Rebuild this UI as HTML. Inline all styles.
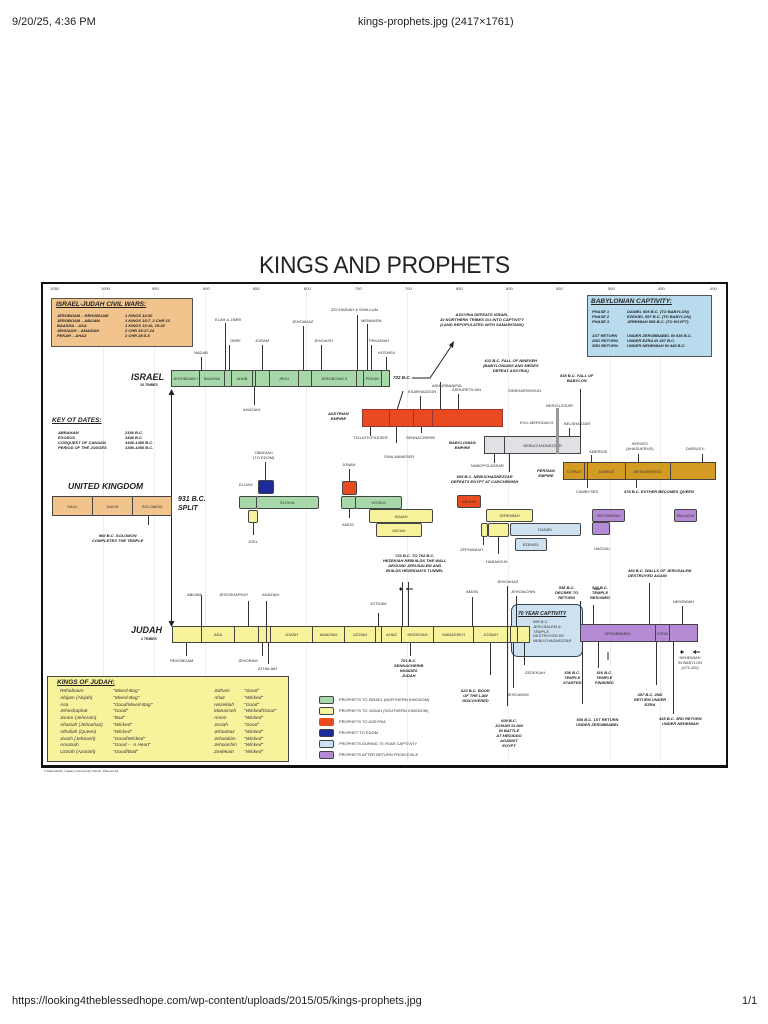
<!DOCTYPE html>
<html><head><meta charset="utf-8"><style>
body{margin:0;background:#fff;width:768px;height:1024px;position:relative;overflow:hidden;font-family:"Liberation Sans",sans-serif}
.a{position:absolute}
.t{position:absolute;font-size:4px;white-space:nowrap;color:#333;line-height:1.2}
.n{position:absolute;font-size:4.5px;font-weight:bold;font-style:italic;color:#222;text-align:center;line-height:1.25;white-space:nowrap}
.b{position:absolute;border:1px solid #444;box-sizing:border-box;font-size:4px;color:#333;display:flex;align-items:center;justify-content:center;white-space:nowrap}
.r{border-radius:2px}
.v{position:absolute;width:1px;background:#333}
.h{position:absolute;height:1px;background:#333}
.G{background:#a7d8a9}.Y{background:#f7f29c}.R{background:#ea4a1f}.B{background:#1d2a9a}.L{background:#cde1f0}.P{background:#b48ad4}
.g{position:absolute;width:1px;background:#eceef2;top:292px;height:470px}
</style></head><body>
<div class="a" style="left:12px;top:16px;font-size:11px;color:#222">9/20/25, 4:36 PM</div>
<div class="a" style="left:358px;top:16px;font-size:11px;color:#222">kings-prophets.jpg (2417×1761)</div>
<div class="a" style="left:12px;top:995px;font-size:11px;color:#222">https://looking4theblessedhope.com/wp-content/uploads/2015/05/kings-prophets.jpg</div>
<div class="a" style="left:742px;top:995px;font-size:11px;color:#222">1/1</div>

<div class="a" style="left:259px;top:252px;font-size:24px;color:#222;letter-spacing:-0.3px;transform:scaleX(0.95);transform-origin:left top">KINGS AND PROPHETS</div>
<div class="g" style="left:103px"></div><div class="g" style="left:154px"></div><div class="g" style="left:205px"></div><div class="g" style="left:306px"></div><div class="g" style="left:407px"></div><div class="g" style="left:508px"></div><div class="g" style="left:610px"></div><div class="g" style="left:660px"></div>
<div class="a" style="left:41px;top:282px;width:687px;height:486px;border:2px solid #111;border-width:2px 2px 3px 2px;box-sizing:border-box"></div>

<!-- years -->
<div class="t" style="left:50px;top:287px">1050</div><div class="t" style="left:101px;top:287px">1000</div><div class="t" style="left:152px;top:287px">950</div><div class="t" style="left:203px;top:287px">900</div><div class="t" style="left:253px;top:287px">850</div><div class="t" style="left:304px;top:287px">800</div><div class="t" style="left:355px;top:287px">750</div><div class="t" style="left:405px;top:287px">700</div><div class="t" style="left:456px;top:287px">650</div><div class="t" style="left:506px;top:287px">600</div><div class="t" style="left:556px;top:287px">550</div><div class="t" style="left:608px;top:287px">500</div><div class="t" style="left:658px;top:287px">450</div><div class="t" style="left:710px;top:287px">400</div>

<!-- civil wars -->
<div class="a" style="left:51px;top:298px;width:142px;height:49px;background:#f1c48d;border:1px solid #555;box-sizing:border-box"></div>
<div class="n" style="left:56px;top:301px;font-size:6.5px;text-decoration:underline;text-align:left">ISRAEL-JUDAH CIVIL WARS:</div>
<div class="n" style="left:57px;top:313px;text-align:left;font-size:4px">JEROBOAM – REHOBOAM<br>JEROBOAM – ABIJAM<br>BAASHA – ASA<br>JEHOASH – AMAZIAH<br>PEKAH – AHAZ</div>
<div class="n" style="left:125px;top:313px;text-align:left;font-size:4px">1 KINGS 14:30<br>1 KINGS 15:7, 2 CHR 13<br>1 KINGS 15:16, 15:32<br>2 CHR 25:17-24<br>2 CHR 28:5-8</div>

<!-- Babylonian captivity -->
<div class="a" style="left:587px;top:295px;width:125px;height:62px;background:#b9dbee;border:1px solid #555;box-sizing:border-box"></div>
<div class="n" style="left:591px;top:298px;font-size:6.5px;text-decoration:underline;text-align:left">BABYLONIAN CAPTIVITY:</div>
<div class="n" style="left:592px;top:309px;text-align:left;font-size:4px">PHASE 1<br>PHASE 2<br>PHASE 3</div>
<div class="n" style="left:627px;top:309px;text-align:left;font-size:4px">DANIEL 605 B.C. (TO BABYLON)<br>EZEKIEL 597 B.C. (TO BABYLON)<br>JEREMIAH 586 B.C. (TO EGYPT)</div>
<div class="n" style="left:592px;top:333px;text-align:left;font-size:4px">1ST RETURN<br>2ND RETURN<br>3RD RETURN</div>
<div class="n" style="left:627px;top:333px;text-align:left;font-size:4px">UNDER ZERUBBABEL IN 536 B.C.<br>UNDER EZRA IN 457 B.C.<br>UNDER NEHEMIAH IN 445 B.C.</div>

<!-- Israel -->
<div class="n" style="left:131px;top:372px;font-size:9px">ISRAEL</div>
<div class="n" style="left:140px;top:383px;font-size:3.5px">10 TRIBES</div>
<div class="b G" style="left:171px;top:370px;width:29px;height:17px">JEROBOAM I</div>
<div class="b G" style="left:199px;top:370px;width:26px;height:17px">BAASHA</div>
<div class="b G" style="left:224px;top:370px;width:8px;height:17px"></div>
<div class="b G" style="left:231px;top:370px;width:22px;height:17px">AHAB</div>
<div class="b G" style="left:252px;top:370px;width:4px;height:17px"></div>
<div class="b G" style="left:255px;top:370px;width:15px;height:17px"></div>
<div class="b G" style="left:269px;top:370px;width:30px;height:17px">JEHU</div>
<div class="b G" style="left:298px;top:370px;width:14px;height:17px"></div>
<div class="b G" style="left:311px;top:370px;width:46px;height:17px">JEROBOAM II</div>
<div class="b G" style="left:356px;top:370px;width:8px;height:17px"></div>
<div class="b G" style="left:363px;top:370px;width:19px;height:17px">PEKAH</div>
<div class="b G" style="left:381px;top:370px;width:9px;height:17px"></div>
<div class="v" style="left:201px;top:357px;height:13px"></div><div class="t" style="left:194px;top:351px">NADAB</div>
<div class="v" style="left:225px;top:323px;height:47px"></div><div class="t" style="left:215px;top:318px">ELAH &amp; ZIMRI</div>
<div class="v" style="left:229px;top:345px;height:25px"></div><div class="t" style="left:230px;top:339px">OMRI</div>
<div class="v" style="left:262px;top:345px;height:25px"></div><div class="t" style="left:255px;top:339px">JORAM</div>
<div class="v" style="left:303px;top:326px;height:44px"></div><div class="t" style="left:292px;top:320px">JEHOAHAZ</div>
<div class="v" style="left:321px;top:345px;height:25px"></div><div class="t" style="left:314px;top:339px">JEHOASH</div>
<div class="v" style="left:357px;top:315px;height:55px"></div><div class="t" style="left:331px;top:308px">ZECHARIAH &amp; SHALLUM</div>
<div class="v" style="left:367px;top:324px;height:46px"></div><div class="t" style="left:361px;top:319px">MENAHEM</div>
<div class="v" style="left:371px;top:345px;height:25px"></div><div class="t" style="left:369px;top:339px">PEKAHIAH</div>
<div class="v" style="left:386px;top:357px;height:13px"></div><div class="t" style="left:378px;top:351px">HOSHEA</div>
<div class="v" style="left:254px;top:387px;height:18px"></div><div class="t" style="left:243px;top:408px">AHAZIAH</div>
<div class="n" style="left:393px;top:375px">722 B.C.</div>
<svg class="a" style="left:0;top:0" width="768" height="1024">
<polyline points="412,378 430,378 452,345" fill="none" stroke="#222" stroke-width="1"/>
<polygon points="454,341 449,345 453,348" fill="#222"/>
<line x1="171.5" y1="394" x2="171.5" y2="621" stroke="#222" stroke-width="1"/>
<polygon points="171.5,389 168.5,395 174.5,395" fill="#222"/>
<polygon points="171.5,627 168.5,621 174.5,621" fill="#222"/>
<line x1="397" y1="410" x2="403" y2="391" stroke="#222"/>
<line x1="608" y1="652" x2="608" y2="660" stroke="#222"/>
<line x1="594" y1="589" x2="600" y2="589" stroke="#222"/>
<line x1="399" y1="589" x2="403" y2="589" stroke="#222"/>
<polygon points="403,589 400,587 400,591" fill="#222"/>
<line x1="406" y1="589" x2="413" y2="589" stroke="#222"/>
<polygon points="406,589 409,587 409,591" fill="#222"/>
<line x1="680" y1="652" x2="684" y2="652" stroke="#222"/>
<polygon points="684,652 681,650 681,654" fill="#222"/>
<line x1="693" y1="652" x2="700" y2="652" stroke="#222"/>
<polygon points="693,652 696,650 696,654" fill="#222"/>
</svg>
<div class="n" style="left:440px;top:312px;font-size:4px">ASSYRIA DEFEATS ISRAEL<br>10 NORTHERN TRIBES GO INTO CAPTIVITY<br>(LAND REPOPULATED WITH SAMARITANS)</div>
<div class="n" style="left:483px;top:358px;font-size:4px">612 B.C. FALL OF NINEVEH<br>(BABYLONIANS AND MEDES<br>DEFEAT ASSYRIA)</div>
<div class="n" style="left:560px;top:373px;font-size:4px">538 B.C. FALL OF<br>BABYLON</div>

<!-- Key OT dates -->
<div class="n" style="left:52px;top:417px;font-size:6.5px;text-decoration:underline;text-align:left">KEY OT DATES:</div>
<div class="n" style="left:58px;top:430px;font-size:4px;text-align:left">ABRAHAM<br>EXODUS<br>CONQUEST OF CANAAN<br>PERIOD OF THE JUDGES</div>
<div class="n" style="left:125px;top:430px;font-size:4px;text-align:left">2166 B.C.<br>1446 B.C.<br>1406-1390 B.C.<br>1390-1050 B.C.</div>

<!-- Assyria -->
<div class="n" style="left:328px;top:411px;font-size:4px">ASSYRIAN<br>EMPIRE</div>
<div class="b R" style="left:362px;top:409px;width:28px;height:18px;border-color:#933"></div>
<div class="b R" style="left:389px;top:409px;width:25px;height:18px;border-color:#933"></div>
<div class="b R" style="left:413px;top:409px;width:20px;height:18px;border-color:#933"></div>
<div class="b R" style="left:432px;top:409px;width:71px;height:18px;border-color:#933"></div>
<div class="v" style="left:420px;top:396px;height:13px"></div><div class="t" style="left:408px;top:390px">ESARHADDON</div>
<div class="v" style="left:458px;top:394px;height:15px"></div><div class="t" style="left:452px;top:388px">ASHURETILIAN</div>
<div class="v" style="left:440px;top:382px;height:27px"></div><div class="t" style="left:432px;top:384px">ASHURBANIPAL</div>
<div class="t" style="left:508px;top:389px">SINSHARISHKUN</div>
<div class="v" style="left:370px;top:427px;height:9px"></div><div class="t" style="left:353px;top:436px">TIGLATH-PILESER</div>
<div class="v" style="left:396px;top:427px;height:16px"></div><div class="t" style="left:384px;top:455px">SHALMANESER</div>
<div class="v" style="left:421px;top:427px;height:6px"></div><div class="t" style="left:406px;top:436px">SENNACHERIB</div>

<!-- Babylon -->
<div class="n" style="left:449px;top:440px;font-size:4px">BABYLONIAN<br>EMPIRE</div>
<div class="b" style="left:484px;top:436px;width:21px;height:18px;background:#e2e0e4"></div>
<div class="b" style="left:504px;top:436px;width:77px;height:18px;background:#e2e0e4">NEBUCHADNEZZAR</div>
<div class="a" style="left:556px;top:408px;width:3px;height:46px;background:#999"></div>
<div class="t" style="left:546px;top:404px">NERIGLISSAR</div>
<div class="t" style="left:520px;top:421px">EVIL-MERODACH</div>
<div class="v" style="left:569px;top:428px;height:8px"></div><div class="t" style="left:564px;top:422px">BELSHAZZAR</div>
<div class="v" style="left:580px;top:389px;height:47px"></div>
<div class="v" style="left:494px;top:454px;height:9px"></div><div class="t" style="left:471px;top:464px">NABOPOLASSAR</div>
<div class="v" style="left:509px;top:454px;height:18px"></div>
<div class="n" style="left:451px;top:474px;font-size:4px">605 B.C. NEBUCHADNEZZAR<br>DEFEATS EGYPT AT CARCHEMISH</div>

<!-- Persia -->
<div class="n" style="left:537px;top:468px;font-size:4px">PERSIAN<br>EMPIRE</div>
<div class="b" style="left:563px;top:462px;width:22px;height:18px;background:#d39b22">CYRUS</div>
<div class="b" style="left:584px;top:462px;width:4px;height:18px;background:#d39b22"></div>
<div class="b" style="left:587px;top:462px;width:39px;height:18px;background:#d39b22">DARIUS</div>
<div class="b" style="left:625px;top:462px;width:46px;height:18px;background:#d39b22">ARTAXERXES I</div>
<div class="b" style="left:670px;top:462px;width:46px;height:18px;background:#d39b22"></div>
<div class="t" style="left:589px;top:450px">SMERDIS</div><div class="v" style="left:591px;top:455px;height:7px"></div>
<div class="t" style="left:626px;top:442px;text-align:center">XERXES<br>(AHASUERUS)</div><div class="v" style="left:638px;top:454px;height:8px"></div>
<div class="t" style="left:686px;top:447px">DARIUS II</div><div class="v" style="left:702px;top:454px;height:8px"></div>
<div class="v" style="left:587px;top:480px;height:8px"></div><div class="t" style="left:576px;top:490px">CAMBYSES</div>
<div class="v" style="left:636px;top:480px;height:8px"></div>
<div class="n" style="left:624px;top:489px;font-size:4px">478 B.C. ESTHER BECOMES QUEEN</div>

<!-- United kingdom -->
<div class="n" style="left:68px;top:481px;font-size:8.5px">UNITED KINGDOM</div>
<div class="b" style="left:52px;top:496px;width:41px;height:20px;background:#f1c48d">SAUL</div>
<div class="b" style="left:92px;top:496px;width:41px;height:20px;background:#f1c48d">DAVID</div>
<div class="b" style="left:132px;top:496px;width:40px;height:20px;background:#f1c48d">SOLOMON</div>
<div class="v" style="left:148px;top:516px;height:9px"></div>
<div class="n" style="left:92px;top:533px;font-size:4px">960 B.C. SOLOMON<br>COMPLETES THE TEMPLE</div>
<div class="n" style="left:178px;top:496px;font-size:7px;text-align:left">931 B.C.<br>SPLIT</div>

<!-- prophets -->
<div class="t" style="left:253px;top:451px;text-align:center">OBADIAH<br>(TO EDOM)</div><div class="v" style="left:265px;top:462px;height:18px"></div>
<div class="b B r" style="left:258px;top:480px;width:16px;height:14px"></div>
<div class="t" style="left:239px;top:483px">ELIJAH</div>
<div class="b G r" style="left:239px;top:496px;width:18px;height:13px"></div>
<div class="b G r" style="left:256px;top:496px;width:63px;height:13px">ELISHA</div>
<div class="b Y r" style="left:248px;top:510px;width:10px;height:13px"></div>
<div class="v" style="left:253px;top:523px;height:12px"></div><div class="t" style="left:248px;top:540px">JOEL</div>
<div class="t" style="left:342px;top:463px">JONAH</div><div class="v" style="left:349px;top:469px;height:12px"></div>
<div class="b R r" style="left:342px;top:481px;width:15px;height:14px"></div>
<div class="b G r" style="left:341px;top:496px;width:15px;height:13px"></div>
<div class="b G r" style="left:355px;top:496px;width:47px;height:13px">HOSEA</div>
<div class="v" style="left:349px;top:509px;height:9px"></div><div class="t" style="left:342px;top:523px">AMOS</div>
<div class="b Y r" style="left:369px;top:509px;width:64px;height:14px">ISAIAH</div>
<div class="b Y r" style="left:376px;top:523px;width:46px;height:14px">MICAH</div>
<div class="b R r" style="left:457px;top:495px;width:24px;height:13px">NAHUM</div>
<div class="b Y r" style="left:486px;top:509px;width:47px;height:13px">JEREMIAH</div>
<div class="b Y r" style="left:481px;top:523px;width:7px;height:14px"></div>
<div class="b Y r" style="left:488px;top:523px;width:21px;height:14px"></div>
<div class="b L r" style="left:510px;top:523px;width:71px;height:13px">DANIEL</div>
<div class="b L r" style="left:515px;top:538px;width:32px;height:13px">EZEKIEL</div>
<div class="v" style="left:483px;top:537px;height:8px"></div><div class="t" style="left:460px;top:548px">ZEPHANIAH</div>
<div class="v" style="left:498px;top:537px;height:17px"></div><div class="t" style="left:486px;top:560px">HABAKKUK</div>
<div class="b P r" style="left:592px;top:509px;width:33px;height:13px">ZECHARIAH</div>
<div class="b P r" style="left:592px;top:522px;width:18px;height:13px"></div>
<div class="t" style="left:594px;top:547px">HAGGAI</div>
<div class="b P r" style="left:674px;top:509px;width:23px;height:13px">MALACHI</div>
<div class="n" style="left:383px;top:553px;font-size:4px">722 B.C. TO 702 B.C.<br>HEZEKIAH REBUILDS THE WALL<br>AROUND JERUSALEM AND<br>BUILDS HEZEKIAH'S TUNNEL</div>
<div class="n" style="left:628px;top:568px;font-size:4px;text-align:left">460 B.C. WALLS OF JERUSALEM<br>DESTROYED AGAIN</div>

<!-- Judah -->
<div class="n" style="left:131px;top:625px;font-size:9px">JUDAH</div>
<div class="n" style="left:141px;top:637px;font-size:3.5px">2 TRIBES</div>
<div class="b L" style="left:511px;top:604px;width:72px;height:53px;border-radius:7px;border-color:#345"></div>
<div class="n" style="left:518px;top:611px;font-size:5px;text-decoration:underline">70 YEAR CAPTIVITY</div>
<div class="t" style="left:533px;top:620px;font-style:italic">586 B.C.<br>JERUSALEM &amp;<br>TEMPLE<br>DESTROYED BY<br>NEBUCHADNEZZAR</div>
<div class="b Y" style="left:172px;top:626px;width:30px;height:17px"></div>
<div class="b Y" style="left:201px;top:626px;width:34px;height:17px">ASA</div>
<div class="b Y" style="left:234px;top:626px;width:25px;height:17px"></div>
<div class="b Y" style="left:258px;top:626px;width:9px;height:17px"></div>
<div class="b Y" style="left:266px;top:626px;width:5px;height:17px"></div>
<div class="b Y" style="left:270px;top:626px;width:43px;height:17px">JOASH</div>
<div class="b Y" style="left:312px;top:626px;width:33px;height:17px">AMAZIAH</div>
<div class="b Y" style="left:344px;top:626px;width:32px;height:17px">UZZIAH</div>
<div class="b Y" style="left:375px;top:626px;width:7px;height:17px"></div>
<div class="b Y" style="left:381px;top:626px;width:21px;height:17px">AHAZ</div>
<div class="b Y" style="left:401px;top:626px;width:33px;height:17px">HEZEKIAH</div>
<div class="b Y" style="left:433px;top:626px;width:41px;height:17px">MANASSEH</div>
<div class="b Y" style="left:473px;top:626px;width:35px;height:17px">JOSIAH</div>
<div class="b Y" style="left:507px;top:626px;width:4px;height:17px"></div>
<div class="b Y" style="left:510px;top:626px;width:8px;height:17px"></div>
<div class="b Y" style="left:517px;top:626px;width:13px;height:17px"></div>
<div class="b P" style="left:580px;top:624px;width:76px;height:18px">ZERUBBABEL</div>
<div class="b P" style="left:655px;top:624px;width:15px;height:18px">EZRA</div>
<div class="b P" style="left:669px;top:624px;width:29px;height:18px"></div>
<div class="v" style="left:201px;top:595px;height:31px"></div><div class="t" style="left:187px;top:593px">ABIJAM</div>
<div class="v" style="left:248px;top:601px;height:25px"></div><div class="t" style="left:219px;top:593px">JEHOSHAPHAT</div>
<div class="v" style="left:266px;top:601px;height:25px"></div><div class="t" style="left:262px;top:593px">AHAZIAH</div>
<div class="v" style="left:186px;top:643px;height:13px"></div><div class="t" style="left:170px;top:659px">REHOBOAM</div>
<div class="v" style="left:262px;top:643px;height:13px"></div><div class="t" style="left:238px;top:659px">JEHORAM</div>
<div class="v" style="left:268px;top:643px;height:21px"></div><div class="t" style="left:258px;top:667px">ATHALIAH</div>
<div class="v" style="left:378px;top:613px;height:13px"></div><div class="t" style="left:370px;top:602px">JOTHAM</div>
<div class="v" style="left:402px;top:582px;height:44px"></div><div class="v" style="left:408px;top:582px;height:44px"></div>
<div class="v" style="left:410px;top:643px;height:13px"></div>
<div class="n" style="left:394px;top:658px;font-size:4px">701 B.C.<br>SENNACHERIB<br>INVADES<br>JUDAH</div>
<div class="v" style="left:472px;top:597px;height:29px"></div><div class="t" style="left:466px;top:590px">AMON</div>
<div class="t" style="left:497px;top:580px">JEHOAHAZ</div><div class="v" style="left:507px;top:586px;height:120px"></div>
<div class="t" style="left:511px;top:590px">JEHOIACHIN</div><div class="v" style="left:516px;top:596px;height:30px"></div>
<div class="v" style="left:490px;top:643px;height:32px"></div>
<div class="n" style="left:461px;top:688px;font-size:4px">622 B.C. BOOK<br>OF THE LAW<br>DISCOVERED</div>
<div class="v" style="left:513px;top:643px;height:45px"></div><div class="t" style="left:507px;top:693px">JEHOIAKIM</div>
<div class="v" style="left:524px;top:643px;height:22px"></div><div class="t" style="left:525px;top:671px">ZEDEKIAH</div>
<div class="n" style="left:495px;top:718px;font-size:4px">609 B.C.<br>JOSIAH SLAIN<br>IN BATTLE<br>AT MEGIDDO<br>AGAINST<br>EGYPT</div>
<div class="n" style="left:555px;top:585px;font-size:4px">538 B.C.<br>DECREE TO<br>RETURN</div>
<div class="n" style="left:590px;top:585px;font-size:4px">520 B.C.<br>TEMPLE<br>RESUMED</div>
<div class="v" style="left:580px;top:601px;height:23px"></div><div class="v" style="left:593px;top:605px;height:19px"></div>
<div class="v" style="left:649px;top:583px;height:41px"></div>
<div class="t" style="left:673px;top:600px">NEHEMIAH</div><div class="v" style="left:682px;top:606px;height:18px"></div>
<div class="v" style="left:582px;top:642px;height:62px"></div><div class="v" style="left:598px;top:642px;height:26px"></div>
<div class="n" style="left:563px;top:670px;font-size:4px">536 B.C.<br>TEMPLE<br>STARTED</div>
<div class="n" style="left:595px;top:670px;font-size:4px">516 B.C.<br>TEMPLE<br>FINISHED</div>
<div class="n" style="left:576px;top:717px;font-size:4px">536 B.C. 1ST RETURN<br>UNDER ZERUBBABEL</div>
<div class="v" style="left:656px;top:642px;height:43px"></div>
<div class="n" style="left:634px;top:692px;font-size:4px">457 B.C. 2ND<br>RETURN UNDER<br>EZRA</div>
<div class="v" style="left:673px;top:642px;height:72px"></div>
<div class="n" style="left:659px;top:716px;font-size:4px">445 B.C. 3RD RETURN<br>UNDER NEHEMIAH</div>
<div class="t" style="left:678px;top:656px;text-align:center">NEHEMIAH<br>IN BABYLON<br>(473-420)</div>

<!-- Kings of Judah -->
<div class="a" style="left:47px;top:676px;width:242px;height:86px;background:#f7f29c;border:1px solid #444;box-sizing:border-box"></div>
<div class="n" style="left:57px;top:679px;font-size:6.5px;text-decoration:underline;text-align:left">KINGS OF JUDAH:</div>
<div class="t" style="left:60px;top:689px;font-style:italic;font-size:4.8px;line-height:6.8px">Rehoboam<br>Abijam (Abijah)<br>Asa<br>Jehoshaphat<br>Joram (Jehoram)<br>Ahaziah (Jehoahaz)<br>Athaliah (Queen)<br>Joash (Jehoash)<br>Amaziah<br>Uzziah (Azariah)</div>
<div class="t" style="left:113px;top:689px;font-style:italic;font-size:4.8px;line-height:6.8px">"Mixed-Bag"<br>"Mixed-Bag"<br>"Good/Mixed-Bag"<br>"Good"<br>"Bad"<br>"Wicked"<br>"Wicked"<br>"Good/Wicked"<br>"Good – &nbsp;A Heart"<br>"Good/Bad"</div>
<div class="t" style="left:214px;top:689px;font-style:italic;font-size:4.8px;line-height:6.8px">Jotham<br>Ahaz<br>Hezekiah<br>Manasseh<br>Amon<br>Josiah<br>Jehoahaz<br>Jehoiakim<br>Jehoiachin<br>Zedekiah</div>
<div class="t" style="left:244px;top:689px;font-style:italic;font-size:4.8px;line-height:6.8px">"Good"<br>"Wicked"<br>"Good"<br>"Wicked/Good"<br>"Wicked"<br>"Good"<br>"Wicked"<br>"Wicked"<br>"Wicked"<br>"Wicked"</div>

<!-- legend -->
<div class="b G r" style="left:319px;top:696px;width:15px;height:8px"></div><div class="t" style="left:339px;top:698px">PROPHETS TO ISRAEL (NORTHERN KINGDOM)</div>
<div class="b Y r" style="left:319px;top:707px;width:15px;height:8px"></div><div class="t" style="left:339px;top:709px">PROPHETS TO JUDAH (SOUTHERN KINGDOM)</div>
<div class="b R r" style="left:319px;top:718px;width:15px;height:8px;border:none"></div><div class="t" style="left:339px;top:720px">PROPHETS TO ASSYRIA</div>
<div class="b B r" style="left:319px;top:729px;width:15px;height:8px"></div><div class="t" style="left:339px;top:731px">PROPHET TO EDOM</div>
<div class="b L r" style="left:319px;top:740px;width:15px;height:8px"></div><div class="t" style="left:339px;top:742px">PROPHETS DURING 70 YEAR CAPTIVITY</div>
<div class="b P r" style="left:319px;top:751px;width:15px;height:8px"></div><div class="t" style="left:339px;top:753px">PROPHETS AFTER RETURN FROM EXILE</div>

<div class="t" style="left:44px;top:770px;font-size:3px">© Mark Martin, Calvary Community Church, Phoenix AZ</div>
</body></html>
